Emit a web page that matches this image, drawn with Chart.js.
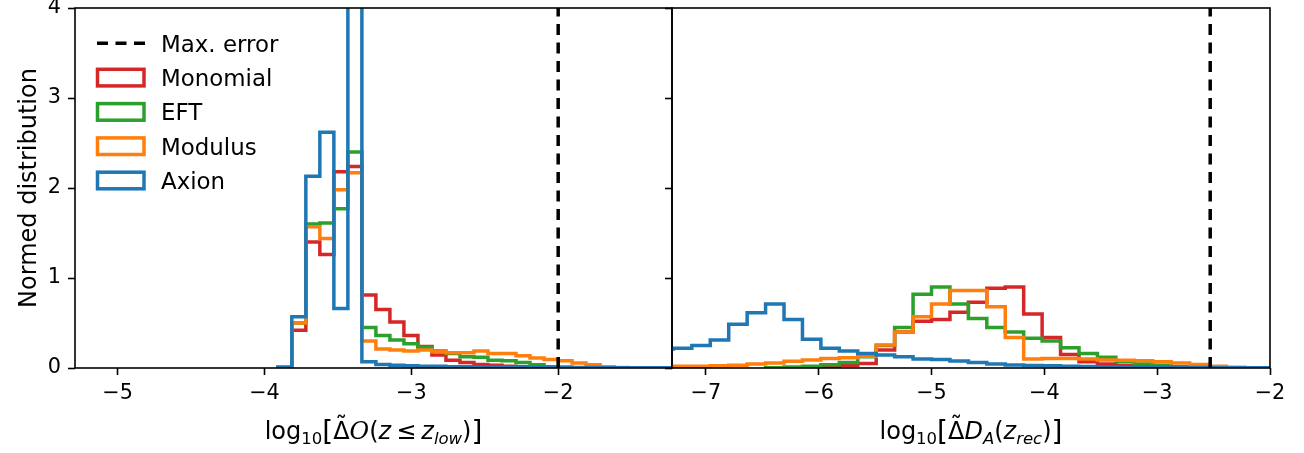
<!DOCTYPE html>
<html>
<head>
<meta charset="utf-8">
<script src="https://cdn.jsdelivr.net/npm/chart.js@4.4.1/dist/chart.umd.min.js"></script>
<style>
  html, body { margin: 0; padding: 0; background: #fff; }
  #wrap { position: relative; width: 1304px; height: 453px; overflow: hidden; }
  canvas { position: absolute; top: 0; }
  #left { left: 0; }
  #right { left: 662px; }
</style>
</head>
<body>
<div id="wrap">
  <canvas id="left" width="674" height="453"></canvas>
  <canvas id="right" width="642" height="453"></canvas>
</div>
<script>
// values (normed histograms, common bins per panel)
const seriesNames = ['Monomial', 'EFT', 'Modulus', 'Axion'];
const maxErrorLabel = 'Max. error';
const yTicks = [0, 1, 2, 3, 4];
const yLabel = 'Normed distribution';

// left panel
const leftRange = [-5.29, -1.225];
const leftTicks = [-5, -4, -3, -2];
const leftBinStart = -3.909;
const leftBinWidth = 0.0954;
const leftMaxError = -2.0;
const leftMonomial = [0.01, 0.42, 1.40, 1.26, 2.18, 2.24, 0.81, 0.65, 0.51, 0.36, 0.24, 0.145, 0.085, 0.06, 0.04, 0.03, 0.02, 0.015, 0.01, 0.008, 0.005, 0.003, 0.002];
const leftEFT = [0.005, 0.50, 1.60, 1.61, 1.77, 2.40, 0.45, 0.36, 0.31, 0.27, 0.23, 0.19, 0.16, 0.125, 0.12, 0.085, 0.08, 0.06, 0.035, 0.015, 0.008, 0.004, 0.002];
const leftModulus = [0.012, 0.50, 1.57, 1.44, 1.98, 2.17, 0.30, 0.21, 0.20, 0.19, 0.20, 0.18, 0.17, 0.17, 0.19, 0.16, 0.16, 0.135, 0.11, 0.095, 0.08, 0.055, 0.035, 0.015, 0.006, 0.003];
const leftAxion = [0.005, 0.57, 2.13, 2.62, 0.66, 4.15, 0.07, 0.04, 0.03, 0.025, 0.02, 0.02, 0.015, 0.015, 0.012, 0.01, 0.01, 0.008, 0.008, 0.006, 0.006, 0.005, 0.005, 0.004, 0.004, 0.003, 0.003, 0.002, 0.002, 0.002];
const leftXLabel = [['log', 'rm'], ['10', 'sub'], ['[', 'br'], ['\u0394', 'tilde'], ['O', 'cal'], ['(', 'rm'], ['z', 'it'], ['\u2264', 'rel'], ['z', 'it'], ['low', 'subit'], [')', 'rm'], [']', 'br']];

// right panel
const rightRange = [-7.30, -2.0];
const rightTicks = [-7, -6, -5, -4, -3, -2];
const rightBinStart = -7.451;
const rightBinWidth = 0.1634;
const rightMaxError = -2.53;
const rightMonomial = [0, 0, 0, 0, 0, 0, 0, 0.003, 0.005, 0.01, 0.03, 0.05, 0.20, 0.40, 0.52, 0.54, 0.62, 0.73, 0.885, 0.90, 0.60, 0.34, 0.15, 0.07, 0.045, 0.03, 0.02, 0.01, 0.005, 0.003];
const rightEFT = [0, 0, 0, 0, 0, 0, 0.003, 0.01, 0.02, 0.035, 0.06, 0.125, 0.25, 0.45, 0.82, 0.90, 0.71, 0.55, 0.45, 0.40, 0.33, 0.30, 0.225, 0.16, 0.12, 0.075, 0.045, 0.03, 0.015, 0.01, 0.005, 0.002];
const rightModulus = [0.015, 0.02, 0.02, 0.025, 0.03, 0.045, 0.055, 0.075, 0.09, 0.105, 0.115, 0.13, 0.255, 0.40, 0.57, 0.71, 0.86, 0.86, 0.68, 0.34, 0.10, 0.105, 0.105, 0.10, 0.09, 0.085, 0.08, 0.07, 0.055, 0.04, 0.02, 0.008, 0.003];
const rightAxion = [0.21, 0.22, 0.25, 0.31, 0.485, 0.615, 0.71, 0.54, 0.32, 0.22, 0.19, 0.16, 0.145, 0.125, 0.10, 0.095, 0.078, 0.06, 0.045, 0.034, 0.028, 0.025, 0.02, 0.017, 0.014, 0.012, 0.01, 0.008, 0.006, 0.005, 0.004, 0.003, 0.002, 0.002];
const rightXLabel = [['log', 'rm'], ['10', 'sub'], ['[', 'br'], ['\u0394', 'tilde'], ['D', 'it'], ['A', 'subit'], ['(', 'rm'], ['z', 'it'], ['rec', 'subit'], [')', 'rm'], [']', 'br']];

// styling
const FONT = 'DejaVu Sans';
Chart.defaults.font.family = FONT;
Chart.defaults.color = '#000';
const colors = ['#d62728', '#2ca02c', '#ff7f0e', '#1f77b4'];
const LW = 3.5;
const DASH = [11, 7.5];

const kindStyle = {
  rm:    { font: '24px ' + FONT, dy: 0 },
  tilde: { font: '24px ' + FONT, dy: 0 },
  sub:   { font: '16.5px ' + FONT, dy: 5 },
  br:    { font: '28px ' + FONT, dy: 2 },
  cal:   { font: 'italic 24px "DejaVu Serif"', dy: 0 },
  it:    { font: 'oblique 24px ' + FONT, dy: 0 },
  subit: { font: 'oblique 16.5px ' + FONT, dy: 5 },
  rel:   { font: '24px ' + FONT, dy: 0, pad: 5 }
};

function stepPoints(start, width, values) {
  const first = Math.max(0, values.findIndex(v => v > 0));
  const pts = [{ x: start + first * width, y: 0 }];
  for (let i = first; i < values.length; i++) pts.push({ x: start + i * width, y: values[i] });
  pts.push({ x: start + values.length * width, y: 0 });
  return pts;
}

const minus = v => String(v).replace('-', '\u2212');

function drawRich(ctx, segs, cx, y) {
  let total = 0;
  const items = segs.map(([text, kind]) => {
    const st = kindStyle[kind];
    ctx.font = st.font;
    const pad = st.pad || 0;
    const w = ctx.measureText(text).width + 2 * pad;
    total += w;
    return { text, kind, st, w, pad };
  });
  let x = cx - total / 2;
  ctx.textAlign = 'left';
  ctx.textBaseline = 'alphabetic';
  items.forEach(it => {
    ctx.font = it.st.font;
    ctx.fillText(it.text, x + it.pad, y + it.st.dy);
    if (it.kind === 'tilde') {
      ctx.textAlign = 'center';
      ctx.fillText('\u02DC', x + it.w / 2, y - 5);
      ctx.textAlign = 'left';
    }
    x += it.w;
  });
}

const framePlugin = {
  id: 'frame',
  afterDatasetsDraw(chart) {
    const { ctx, chartArea: a } = chart;
    ctx.save();
    ctx.strokeStyle = '#000';
    ctx.lineWidth = 1.6;
    ctx.strokeRect(a.left, a.top, a.right - a.left, a.bottom - a.top);
    ctx.restore();
  }
};

const textPlugin = {
  id: 'texts',
  afterDraw(chart, args, opts) {
    const { ctx, chartArea: a } = chart;
    ctx.save();
    ctx.fillStyle = '#000';
    drawRich(ctx, opts.xLabel, (a.left + a.right) / 2, 439);
    if (opts.yLabel) {
      ctx.save();
      ctx.translate(36, (a.top + a.bottom) / 2);
      ctx.rotate(-Math.PI / 2);
      ctx.font = '24px ' + FONT;
      ctx.textAlign = 'center';
      ctx.textBaseline = 'alphabetic';
      ctx.fillText(opts.yLabel, 0, 0);
      ctx.restore();
    }
    if (opts.legend) {
      ctx.font = '22.9px ' + FONT;
      ctx.textAlign = 'left';
      ctx.textBaseline = 'alphabetic';
      const rows = [{ label: maxErrorLabel, dashed: true }].concat(seriesNames.map((n, i) => ({ label: n, color: colors[i] })));
      rows.forEach((r, i) => {
        const cy = 43.3 + i * 34.3;
        ctx.lineWidth = LW;
        if (r.dashed) {
          ctx.strokeStyle = '#000';
          ctx.setLineDash(DASH);
          ctx.beginPath();
          ctx.moveTo(97, cy);
          ctx.lineTo(145, cy);
          ctx.stroke();
          ctx.setLineDash([]);
        } else {
          ctx.strokeStyle = r.color;
          ctx.lineJoin = 'miter';
          ctx.strokeRect(97.5, cy - 8.3, 46.5, 16.6);
        }
        ctx.fillText(r.label, 161, cy + 8.3);
      });
    }
    ctx.restore();
  }
};

function makeChart(id, cfg) {
  const hist = [
    { label: maxErrorLabel, data: [{ x: cfg.maxErr, y: yTicks[0] }, { x: cfg.maxErr, y: yTicks[yTicks.length - 1] }],
      borderColor: '#000', borderDash: DASH, stepped: false, order: 0 }
  ];
  cfg.series.forEach((vals, i) => {
    hist.push({ label: seriesNames[i], data: stepPoints(cfg.start, cfg.width, vals),
      borderColor: colors[i], stepped: true, order: 4 - i });
  });
  hist.forEach(d => Object.assign(d, {
    borderWidth: LW, pointRadius: 0, pointHoverRadius: 0, fill: false, tension: 0,
    borderJoinStyle: 'miter', borderCapStyle: 'butt', backgroundColor: 'transparent'
  }));

  const gridOpts = { drawOnChartArea: false, drawTicks: true, tickLength: 7, tickColor: '#000', tickWidth: 1.6 };
  return new Chart(document.getElementById(id), {
    type: 'line',
    data: { datasets: hist },
    options: {
      responsive: false,
      animation: false,
      events: [],
      layout: { padding: { top: 8, right: cfg.padRight, bottom: 0, left: 0 } },
      plugins: {
        legend: { display: false },
        tooltip: { enabled: false },
        texts: { xLabel: cfg.xLabel, yLabel: cfg.yLabel, legend: cfg.legend }
      },
      scales: {
        x: {
          type: 'linear', min: cfg.range[0], max: cfg.range[1],
          afterBuildTicks: s => { s.ticks = cfg.ticks.map(v => ({ value: v })); },
          afterFit: s => { s.height = 85; s.paddingLeft = 0; s.paddingRight = 0; },
          ticks: { font: { size: 20.8 }, color: '#000', padding: 6, maxRotation: 0, autoSkip: false, callback: v => minus(v) },
          grid: gridOpts,
          border: { display: false }
        },
        y: {
          type: 'linear', min: yTicks[0], max: yTicks[yTicks.length - 1],
          afterBuildTicks: s => { s.ticks = yTicks.map(v => ({ value: v })); },
          afterFit: s => { s.width = cfg.yWidth; s.paddingTop = 0; s.paddingBottom = 0; },
          ticks: { display: cfg.showYLabels, font: { size: 20.8 }, color: '#000', padding: 7 },
          grid: gridOpts,
          border: { display: false }
        }
      }
    },
    plugins: [framePlugin, textPlugin]
  });
}

makeChart('left', {
  range: leftRange, ticks: leftTicks, start: leftBinStart, width: leftBinWidth, maxErr: leftMaxError,
  series: [leftMonomial, leftEFT, leftModulus, leftAxion],
  xLabel: leftXLabel, yLabel: yLabel, legend: true, showYLabels: true, yWidth: 75, padRight: 2
});

makeChart('right', {
  range: rightRange, ticks: rightTicks, start: rightBinStart, width: rightBinWidth, maxErr: rightMaxError,
  series: [rightMonomial, rightEFT, rightModulus, rightAxion],
  xLabel: rightXLabel, yLabel: null, legend: false, showYLabels: false, yWidth: 10, padRight: 34
});
</script>
</body>
</html>
